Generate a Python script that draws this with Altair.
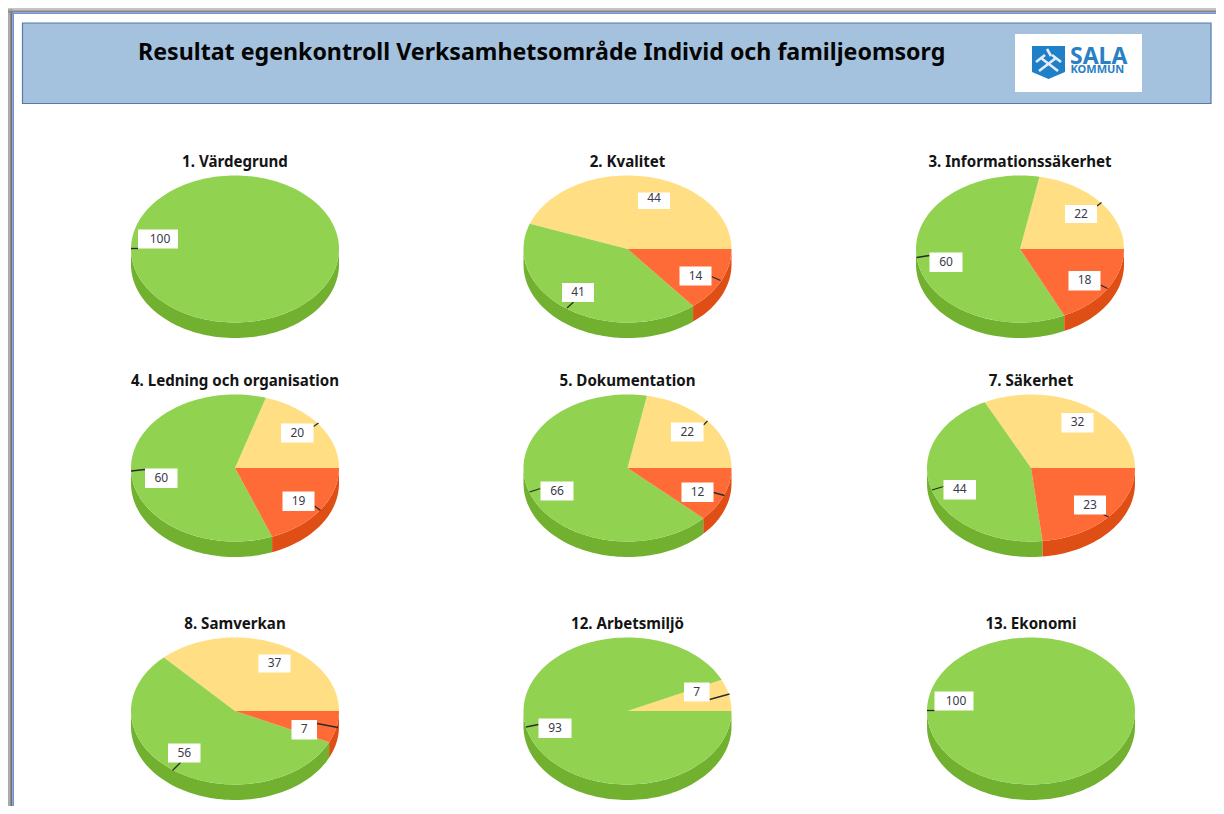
import math
import altair as alt
import pandas as pd

alt.data_transformers.disable_max_rows()

# ---- values
TITLES = ["1. Värdegrund", "2. Kvalitet", "3. Informationssäkerhet",
          "4. Ledning och organisation", "5. Dokumentation", "7. Säkerhet",
          "8. Samverkan", "12. Arbetsmiljö", "13. Ekonomi"]
YELLOW = [0, 44, 22, 20, 22, 32, 37, 7, 0]
GREEN = [100, 41, 60, 60, 66, 44, 56, 93, 100]
RED = [0, 14, 18, 19, 12, 23, 7, 0, 0]
HEADING = "Resultat egenkontroll Verksamhetsområde Individ och familjeomsorg"

# ---- layout (page pixels)
W, H = 1208, 798
CENTERS = [(235, 249), (627.5, 249), (1020, 249),
           (235, 468), (627.5, 468), (1031, 468),
           (235, 711), (627.5, 711), (1031, 711)]
TITLE_Y = [166.5, 166.5, 166.5, 386, 386, 386, 628.5, 628.5, 628.5]
A, B, DEPTH = 104, 73.5, 15.5
# label box per pie and category: x0, y0, x1, y1 and leader line x0, y0, x1, y1
BOXES = {
    (0, "g"): ((138, 229.5, 178, 248.5), (131, 248.5, 138, 248.5)),
    (1, "y"): ((638, 192.5, 670, 209), None),
    (1, "g"): ((562, 283, 594, 302), (567, 308, 573.5, 302)),
    (1, "r"): ((679.5, 266.5, 711.5, 285.5), (711.5, 276.5, 720.5, 280.5)),
    (2, "y"): ((1065, 205, 1097, 223), (1097, 206, 1101.5, 202.5)),
    (2, "g"): ((929.5, 252.5, 962.5, 272), (916.5, 257.5, 929.5, 255.5)),
    (2, "r"): ((1068.5, 271, 1100.5, 290.5), (1100.5, 285, 1107.5, 288.5)),
    (3, "y"): ((281, 423.5, 313.5, 442.5), (313.5, 426.5, 318.5, 423)),
    (3, "g"): ((145, 468.5, 177.5, 488), (131, 471, 145, 469.5)),
    (3, "r"): ((282.5, 491.5, 314.5, 511), (314.5, 506, 320.5, 510.5)),
    (4, "y"): ((671, 422.5, 703.5, 441.5), (703.5, 425, 707.5, 421)),
    (4, "g"): ((540.5, 481.5, 573.5, 500.5), (529.5, 492, 540.5, 488.5)),
    (4, "r"): ((681.5, 482.5, 713.5, 502), (713.5, 492.5, 724.5, 495.5)),
    (5, "y"): ((1061.5, 413, 1093.5, 432.5), None),
    (5, "g"): ((943.5, 480, 976, 499.5), (932, 490, 943.5, 486.5)),
    (5, "r"): ((1074, 495.5, 1106, 514.5), (1103.5, 514.5, 1108.5, 517)),
    (6, "y"): ((258.5, 654.5, 290.5, 672.5), None),
    (6, "g"): ((168, 743.5, 200.5, 762.5), (172.5, 770.5, 180.5, 762.5)),
    (6, "r"): ((291.5, 720, 317, 739.5), (317, 723.5, 338, 727.5)),
    (7, "y"): ((684, 682.5, 709.5, 701.5), (709.5, 699.5, 729.5, 694)),
    (7, "g"): ((538.5, 718.5, 571.5, 738), (526, 727, 538.5, 724.5)),
    (8, "g"): ((934.5, 691.5, 973.5, 710.5), (927, 710.5, 934.5, 710.5)),
}
TEXT_NUDGE = {(0, "g"): (2, 0), (8, "g"): (2, 0), (1, "y"): (0, -2)}
COLORS = {"y": "#FFDE84", "g": "#92D251", "r": "#FF6B36",
          "ys": "#E0B84E", "gs": "#72B02F", "rs": "#DF4E14",
          "header": "#A4C2DE", "shield": "#1F7FC8"}
VALUES = {"y": YELLOW, "g": GREEN, "r": RED}

# ---- sector outlines derived from the values
rows = []


def add(piece, part, pts):
    for i, (x, y) in enumerate(pts):
        rows.append({"piece": piece, "part": part, "i": i, "x": x, "y": y})


def arc(t0, t1):
    n = max(2, int(abs(t1 - t0) / 2))
    return [t0 + (t1 - t0) * k / n for k in range(n + 1)]


for p, (cx, cy) in enumerate(CENTERS):
    total = YELLOW[p] + GREEN[p] + RED[p]
    y_end = 360 * YELLOW[p] / total
    r_start = 360 - 360 * RED[p] / total
    spans = [("y", 0, y_end), ("g", y_end, r_start), ("r", r_start, 360)]
    for cat, t0, t1 in spans:
        if t1 <= t0:
            continue
        # front wall of the disc
        s0, s1 = max(t0, 180), t1
        if s1 > s0:
            top = [(cx + A * math.cos(math.radians(t)), cy - B * math.sin(math.radians(t))) for t in arc(s0, s1)]
            add(f"{p}{cat}s", cat + "s", top + [(x, y + DEPTH) for x, y in reversed(top)])
    for cat, t0, t1 in spans:
        if t1 <= t0:
            continue
        edge = [(cx + A * math.cos(math.radians(t)), cy - B * math.sin(math.radians(t))) for t in arc(t0, t1)]
        add(f"{p}{cat}z", cat, [(cx, cy)] + edge)

sectors = pd.DataFrame(rows)
box_rows, leader_rows = [], []
for (p, cat), (box, leader) in BOXES.items():
    nx, ny = TEXT_NUDGE.get((p, cat), (0, 0))
    box_rows.append({"x": box[0], "x2": box[2], "y": box[1], "y2": box[3],
                     "tx": (box[0] + box[2]) / 2 + nx, "ty": (box[1] + box[3]) / 2 - 0.3 + ny,
                     "label": str(VALUES[cat][p])})
    if leader:
        leader_rows.append({"x": leader[0], "y": leader[1], "x2": leader[2], "y2": leader[3]})
boxes = pd.DataFrame(box_rows)
leaders = pd.DataFrame(leader_rows)
titles = pd.DataFrame({"x": [c[0] for c in CENTERS], "y": TITLE_Y, "t": TITLES})

X = alt.X("x:Q", scale=alt.Scale(domain=[8, 8 + W], nice=False, zero=False), axis=None)
Y = alt.Y("y:Q", scale=alt.Scale(domain=[8, 8 + H], nice=False, zero=False, reverse=True), axis=None)

color = alt.Color("part:N", legend=None,
                  scale=alt.Scale(domain=list(COLORS), range=list(COLORS.values())))

# frame
frame = pd.DataFrame([
    {"x": 8, "x2": 9.5, "y": 8, "y2": 8 + H, "c": "#A8A8A8"},
    {"x": 9.5, "x2": 11, "y": 8, "y2": 8 + H, "c": "#8C8C8C"},
    {"x": 11, "x2": 12.5, "y": 8, "y2": 8 + H, "c": "#707070"},
    {"x": 8, "x2": 8 + W, "y": 8, "y2": 9.5, "c": "#C4C4C4"},
    {"x": 8, "x2": 8 + W, "y": 9.5, "y2": 11, "c": "#A6A6A6"},
    {"x": 8, "x2": 8 + W, "y": 11, "y2": 12.5, "c": "#858585"},
    {"x": 12.5, "x2": 8 + W, "y": 12.5, "y2": 14, "c": "#6E93DC"},
    {"x": 12.5, "x2": 14, "y": 12.5, "y2": 8 + H, "c": "#6E93DC"},
])
frame_l = alt.Chart(frame).mark_rect().encode(X, x2="x2:Q", y=Y, y2="y2:Q", fill=alt.Fill("c:N", scale=None))

header = alt.Chart(pd.DataFrame([{"x": 22.5, "x2": 1211, "y": 23, "y2": 103.5}])).mark_rect(
    fill=COLORS["header"], stroke="#5878AC", strokeWidth=1.2).encode(X, x2="x2:Q", y=Y, y2="y2:Q")
heading = alt.Chart(pd.DataFrame([{"x": 138, "y": 59.5, "t": HEADING}])).mark_text(
    align="left", baseline="alphabetic", font="Noto Sans", fontWeight="bold", fontSize=23.18, color="#050505"
).encode(X, Y, text="t:N")

# logo
logo_bg = alt.Chart(pd.DataFrame([{"x": 1015, "x2": 1142, "y": 34, "y2": 92}])).mark_rect(
    fill="white").encode(X, x2="x2:Q", y=Y, y2="y2:Q")
shield_pts = [(1032, 46), (1065, 46), (1065, 72), (1048.5, 79), (1032, 72), (1032, 46)]
shield = alt.Chart(pd.DataFrame([{"part": "shield", "i": i, "x": x, "y": y} for i, (x, y) in enumerate(shield_pts)])).mark_line(
    filled=True, strokeWidth=0).encode(X, Y, order="i:Q", color=color)
hammers = alt.Chart(pd.DataFrame([
    {"x": 1039, "y": 71, "x2": 1056, "y2": 58},
    {"x": 1041, "y": 58, "x2": 1058, "y2": 71},
    {"x": 1036, "y": 62, "x2": 1045, "y2": 55},
    {"x": 1052, "y": 55, "x2": 1061, "y2": 62},
    {"x": 1047, "y": 49, "x2": 1051, "y2": 56},
])).mark_rule(color="#E4EEF7", strokeWidth=2.6).encode(X, Y, x2="x2:Q", y2="y2:Q")
logo_text = alt.Chart(pd.DataFrame([
    {"x": 1070, "y": 64, "t": "SALA", "s": 23},
    {"x": 1070.5, "y": 73, "t": "KOMMUN", "s": 11},
])).mark_text(align="left", baseline="alphabetic", font="Noto Sans", fontWeight="bold", color="#2A80C5").encode(
    X, Y, text="t:N", size=alt.Size("s:Q", scale=None, legend=None))

# pies
pies = alt.Chart(sectors).mark_line(filled=True, strokeWidth=0, interpolate="linear").encode(
    X, Y, detail="piece:N", order="i:Q", color=color)

lead = alt.Chart(leaders).mark_rule(color="#2A2A2A", strokeWidth=1.3).encode(X, Y, x2="x2:Q", y2="y2:Q")
box = alt.Chart(boxes).mark_rect(fill="white").encode(X, x2="x2:Q", y=Y, y2="y2:Q")
box_text = alt.Chart(boxes).mark_text(font="Noto Sans", fontSize=12, color="#3A3A4A", baseline="middle").encode(
    x=alt.X("tx:Q", scale=alt.Scale(domain=[8, 8 + W], nice=False, zero=False), axis=None),
    y=alt.Y("ty:Q", scale=alt.Scale(domain=[8, 8 + H], nice=False, zero=False, reverse=True), axis=None),
    text="label:N")
title_text = alt.Chart(titles).mark_text(font="Noto Sans", fontWeight="bold", fontSize=15.1, color="#141414",
                                         baseline="alphabetic").encode(X, Y, text="t:N")

chart = alt.layer(frame_l, header, heading, logo_bg, shield, hammers, logo_text,
                  pies, lead, box, box_text, title_text).resolve_scale(color="shared").properties(
    width=W, height=H, padding=0, background="white",
    autosize=alt.AutoSizeParams(type="none")
).configure_view(strokeWidth=0)

chart.save("out.html", embed_options={"renderer": "svg", "actions": False})
